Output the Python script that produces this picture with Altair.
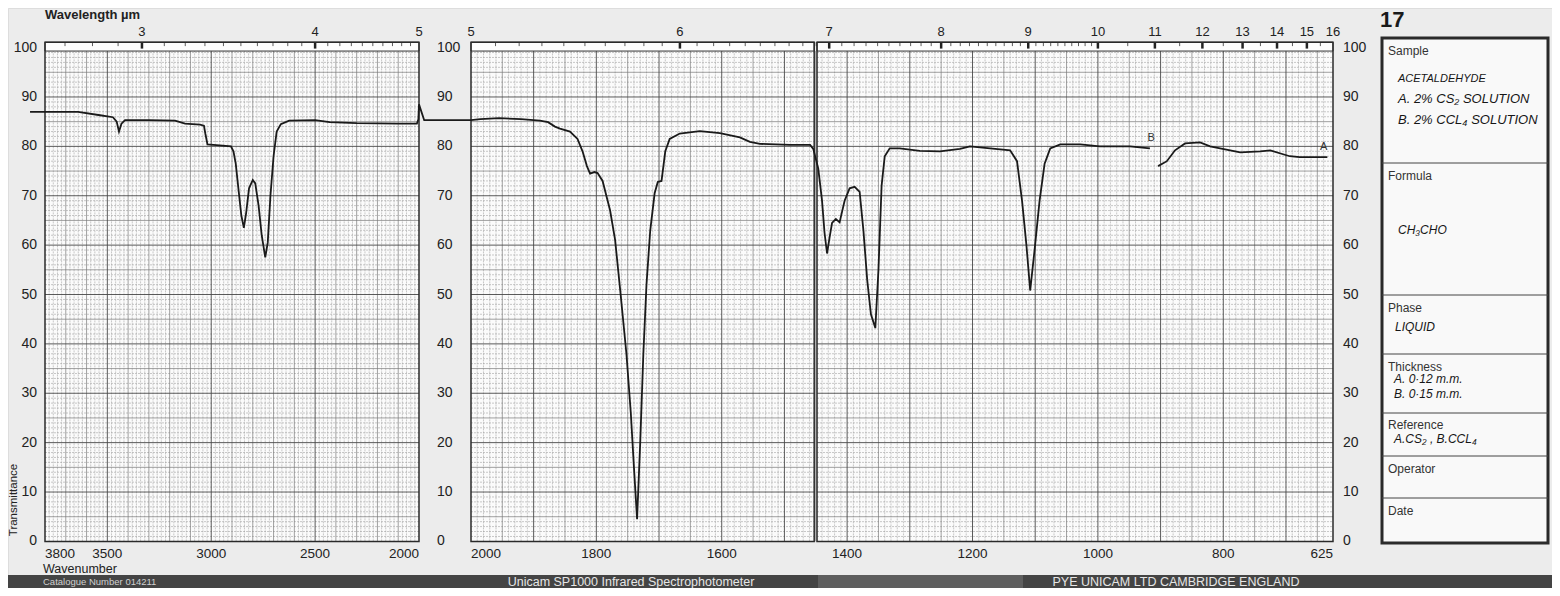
import altair as alt
import pandas as pd

# ---------------- spectrum ----------------
# trace B : continuous pen trace (left sheet + second sheet)
wn_left = [3872, 3800, 3641, 3535, 3473, 3455, 3444, 3432, 3415, 3300, 3174, 3126, 3054, 3035,
           3028, 3018, 2960, 2905, 2893, 2882, 2868, 2855, 2843, 2832, 2818, 2800, 2788, 2772,
           2757, 2740, 2728, 2715, 2700, 2685, 2665, 2625, 2500, 2430, 2300, 2100, 2010, 2003, 2000]
t_left = [87.0, 87.0, 87.0, 86.3, 85.9, 85.0, 83.0, 84.6, 85.3, 85.3, 85.2, 84.6, 84.4, 84.2,
          82.5, 80.4, 80.2, 80.0, 79.0, 76.5, 71.0, 66.0, 63.5, 66.5, 71.5, 73.2, 72.5, 68.0,
          62.0, 57.5, 60.5, 70.0, 78.0, 83.0, 84.5, 85.2, 85.3, 84.9, 84.7, 84.6, 84.6, 85.5, 88.5]

wn_mid = [1999.99, 1999.9, 1985, 1955, 1920, 1890, 1877, 1866, 1858, 1842, 1830, 1822, 1815, 1810,
          1803, 1798, 1790, 1778, 1770, 1762, 1752, 1745, 1740, 1735, 1730, 1725, 1720, 1714,
          1707, 1702, 1696, 1690, 1683, 1667, 1635, 1603, 1571, 1555, 1539, 1491, 1459]
t_mid = [85.3, 85.3, 85.5, 85.7, 85.5, 85.2, 84.9, 84.0, 83.6, 83.0, 81.5, 79.0, 76.0, 74.5,
         74.8, 74.6, 73.0, 67.0, 61.0, 51.0, 38.0, 26.0, 15.0, 4.5, 20.0, 38.0, 52.0, 63.0,
         70.5, 72.8, 73.0, 79.0, 81.5, 82.6, 83.1, 82.7, 81.8, 80.9, 80.5, 80.3, 80.3]

wn_right = [1454, 1446, 1440, 1436, 1432, 1428, 1424, 1418, 1412, 1404, 1396, 1388, 1380, 1374,
            1368, 1362, 1355, 1350, 1345, 1340, 1332, 1316, 1284, 1252, 1220, 1204, 1172, 1140,
            1129, 1121, 1114, 1108, 1101, 1093, 1085, 1076, 1060, 1028, 997, 949, 917]
t_right = [79.5, 75.5, 69.0, 62.5, 58.3, 61.5, 64.5, 65.3, 64.6, 69.0, 71.5, 71.8, 70.8, 63.0,
           53.0, 46.0, 43.2, 55.0, 72.0, 78.0, 79.6, 79.6, 79.1, 79.0, 79.5, 80.0, 79.6, 79.2,
           77.0, 69.0, 60.0, 50.8, 59.0, 69.0, 76.5, 79.6, 80.4, 80.4, 80.0, 80.0, 79.6]

# trace A : long-wavelength end
wn_a = [904, 890, 877, 861, 837, 821, 789, 773, 741, 725, 694, 678, 634]
t_a = [76.0, 77.0, 79.2, 80.6, 80.8, 80.0, 79.2, 78.8, 79.0, 79.2, 78.0, 77.8, 77.8]

# ---------------- axis labels ----------------
wn_labels_left = [3800, 3500, 3000, 2500, 2000]
wn_labels_right = [2000, 1800, 1600, 1400, 1200, 1000, 800, 625]
um_labels_left = [3, 4, 5]
um_labels_right = [5, 6, 7, 8, 9, 10, 11, 12, 13, 14, 15, 16]
t_labels = [0, 10, 20, 30, 40, 50, 60, 70, 80, 90, 100]

FONT = "Liberation Sans"
W, H = 1544, 580
GAP = 1999.9          # first wavenumber of the second chart sheet
TOP = 101.1           # top of the wavelength ruler strip
RULER = 99.3          # bottom of the ruler strip

xs = alt.Scale(domain=[3800, 2000, GAP, 625], range=[37, 411, 463, 1325], nice=False, zero=False)
ys = alt.Scale(domain=[0, 100], range=[533.4, 39.6], nice=False, zero=False)


def X(f):
    return alt.X(f, type="quantitative", scale=xs, axis=None)


def Y(f):
    return alt.Y(f, type="quantitative", scale=ys, axis=None)


one = pd.DataFrame({"k": [0]})
layers = []


def txt(s, x, y, size=12, align="left", weight="normal", style="normal", color="#222",
        angle=0, font=FONT):
    return alt.Chart(one).mark_text(
        text=s, align=align, baseline="middle", fontSize=size, fontWeight=weight,
        fontStyle=style, color=color, angle=angle, font=font
    ).encode(x=alt.value(x), y=alt.value(y))


# ---------------- panels ----------------
spans = [(3800, 2000), (GAP, 1452.5), (1448, 625)]
panels = pd.DataFrame({"x0": [s[0] for s in spans], "x1": [s[1] for s in spans],
                       "y0": [0] * 3, "y1": [TOP] * 3, "r0": [RULER] * 3})
layers.append(alt.Chart(panels).mark_rect(fill="#fbfbfb").encode(
    x=X("x0"), x2="x1", y=Y("y0"), y2="y1"))

# vertical grid
fine_v = [w for w in range(3780, 2000, -20) if w % 100] + \
         [w for w in range(1990, 630, -10) if w % 50]
med_v = [w for w in range(3700, 2000, -100) if w % 500] + list(range(1950, 630, -100))
heavy_v = [3500, 3000, 2500] + list(range(1900, 630, -100))


def vgrid(wns):
    return pd.DataFrame({"wn": wns, "y0": [0] * len(wns), "y1": [RULER] * len(wns)})


def hgrid(ts):
    return pd.DataFrame([{"x0": a, "x1": b, "t": t} for a, b in spans for t in ts])


fine_h = [t for t in range(1, 100) if t % 5]
med_h = list(range(5, 100, 10))
heavy_h = list(range(10, 100, 10))

styles = {"fine": dict(color="#9c9c9c", strokeWidth=0.55, strokeDash=[2, 1]),
          "med": dict(color="#7a7a7a", strokeWidth=0.7),
          "heavy": dict(color="#474747", strokeWidth=0.9)}

for kind, vs, hs in [("fine", fine_v, fine_h), ("med", med_v, med_h), ("heavy", heavy_v, heavy_h)]:
    layers.append(alt.Chart(vgrid(vs)).mark_rule(**styles[kind]).encode(
        x=X("wn"), y=Y("y0"), y2="y1"))
    layers.append(alt.Chart(hgrid(hs)).mark_rule(**styles[kind]).encode(
        x=X("x0"), x2="x1", y=Y("t")))

# wavelength ruler strip
layers.append(alt.Chart(panels).mark_rect(fill="#fdfdfd", stroke="#333", strokeWidth=1).encode(
    x=X("x0"), x2="x1", y=Y("r0"), y2="y1"))

minor_um = [l / 10 for l in range(27, 50) if l % 10] + \
           [l / 10 for l in range(51, 100) if l % 10] + [10.5, 11.5, 12.5, 13.5, 14.5, 15.5]
major_um = [3, 4, 6, 7, 8, 9, 10, 11, 12, 13, 14, 15]
minor_df = pd.DataFrame({"wn": [10000 / l for l in minor_um], "a": TOP, "b": 100.3})
major_df = pd.DataFrame({"wn": [10000 / l for l in major_um], "a": TOP, "b": 99.8})
layers.append(alt.Chart(minor_df).mark_rule(color="#333", strokeWidth=0.8).encode(
    x=X("wn"), y=Y("a"), y2="b"))
layers.append(alt.Chart(major_df).mark_rule(color="#222", strokeWidth=2.5).encode(
    x=X("wn"), y=Y("a"), y2="b"))

# panel frames
layers.append(alt.Chart(panels).mark_rect(fill="#ffffff", fillOpacity=0, stroke="#2a2a2a",
                                          strokeWidth=1.5).encode(
    x=X("x0"), x2="x1", y=Y("y0"), y2="y1"))

# ---------------- spectrum ----------------
trace_b = pd.DataFrame({"wn": wn_left + wn_mid + wn_right, "t": t_left + t_mid + t_right})
trace_b["i"] = range(len(trace_b))
trace_a = pd.DataFrame({"wn": wn_a, "t": t_a})
trace_a["i"] = range(len(trace_a))
for tr in (trace_b, trace_a):
    layers.append(alt.Chart(tr).mark_line(color="#1a1a1a", strokeWidth=1.8).encode(
        x=X("wn"), y=Y("t"), order="i:Q"))

curve_tags = pd.DataFrame({"wn": [915, 640], "t": [81.6, 79.9], "lab": ["B", "A"]})
layers.append(alt.Chart(curve_tags).mark_text(fontSize=11, font=FONT, color="#333").encode(
    x=X("wn"), y=Y("t"), text="lab:N"))

# ---------------- axis labels ----------------
tl = pd.DataFrame({"t": t_labels, "lab": [str(v) for v in t_labels]})
for xpix, al in [(29, "right"), (429, "left"), (1335, "left")]:
    layers.append(alt.Chart(tl).mark_text(align=al, baseline="middle", fontSize=14, font=FONT,
                                          color="#222").encode(
        x=alt.value(xpix), y=Y("t"), text="lab:N"))

wl = pd.DataFrame({
    "wn": [3800, 3500, 3000, 2500, 2000] + [GAP, 1800, 1600, 1400, 1200, 1000, 800, 625],
    "lab": [str(v) for v in wn_labels_left] + [str(v) for v in wn_labels_right],
    "al": ["left", "center", "center", "center", "right",
           "left", "center", "center", "center", "center", "center", "center", "right"]})
for al in ["left", "center", "right"]:
    layers.append(alt.Chart(wl[wl.al == al]).mark_text(
        align=al, baseline="middle", fontSize=13.5, font=FONT, color="#222").encode(
        x=X("wn"), y=alt.value(546), text="lab:N"))

ul = pd.DataFrame({
    "wn": [10000 / v for v in um_labels_left] + [min(10000 / v, GAP) for v in um_labels_right],
    "lab": [str(v) for v in um_labels_left] + [str(v) for v in um_labels_right]})
layers.append(alt.Chart(ul).mark_text(align="center", baseline="middle", fontSize=13, font=FONT,
                                      color="#222").encode(
    x=X("wn"), y=alt.value(24), text="lab:N"))

layers.append(txt("Wavelength µm", 37, 7, size=13, weight="bold"))
layers.append(txt("Wavenumber", 35, 560.5, size=12.5))
layers.append(txt("Transmittance", 6, 492, size=11.5, align="center", angle=270))

# ---------------- info box ----------------
layers.append(txt("17", 1372, 12, size=22, weight="bold", color="#1a1a1a"))
layers.append(alt.Chart(one).mark_rect(fill="#f9f9f9", stroke="#2a2a2a", strokeWidth=3).encode(
    x=alt.value(1374), x2=alt.value(1540), y=alt.value(30), y2=alt.value(535)))
for yy in [155, 287, 346, 405, 448, 490]:
    layers.append(alt.Chart(one).mark_rule(color="#444", strokeWidth=1).encode(
        x=alt.value(1374), x2=alt.value(1540), y=alt.value(yy)))

for s, yy in [("Sample", 43), ("Formula", 168), ("Phase", 300), ("Thickness", 359),
              ("Reference", 417), ("Operator", 461), ("Date", 503)]:
    layers.append(txt(s, 1380, yy, size=12, color="#333"))

hand = [("ACETALDEHYDE", 1390, 71, 11), ("A. 2% CS₂ SOLUTION", 1390, 91, 13),
        ("B. 2% CCL₄ SOLUTION", 1390, 112, 13), ("CH₃CHO", 1390, 222, 12),
        ("LIQUID", 1387, 319, 12), ("A. 0·12 m.m.", 1386, 371, 12),
        ("B. 0·15 m.m.", 1386, 386, 12), ("A.CS₂ , B.CCL₄", 1386, 431, 12)]
for s, xx, yy, sz in hand:
    layers.append(txt(s, xx, yy, size=sz, style="italic", weight=500, color="#161616"))

# ---------------- bottom band ----------------
layers.append(alt.Chart(one).mark_rect(fill="#444444").encode(
    x=alt.value(0), x2=alt.value(W), y=alt.value(567), y2=alt.value(H)))
layers.append(alt.Chart(one).mark_rect(fill="#5e5e5e").encode(
    x=alt.value(810), x2=alt.value(1015), y=alt.value(567), y2=alt.value(H)))
layers.append(txt("Catalogue Number 014211", 35, 574, size=9.5, color="#d0d0d0"))
layers.append(txt("Unicam SP1000 Infrared Spectrophotometer", 623, 574, size=12.5,
                  align="center", color="#e6e6e6"))
layers.append(txt("PYE UNICAM LTD  CAMBRIDGE  ENGLAND", 1168, 574, size=12.5, align="center",
                  color="#e6e6e6"))

chart = alt.layer(*layers).properties(
    width=W, height=H, padding=0,
    autosize=alt.AutoSizeParams(type="none"),
).configure_view(stroke=None).configure(background="#ececec")

chart.save("out.html", embed_options={"renderer": "svg", "actions": False})
